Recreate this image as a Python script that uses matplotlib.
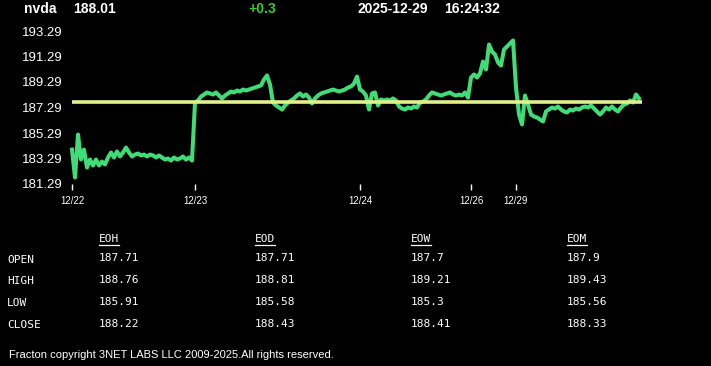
import matplotlib
matplotlib.use("Agg")
import matplotlib.pyplot as plt
from matplotlib.lines import Line2D

# ---------------- data ----------------
symbol = "nvda"
last_price = "188.01"
change = "+0.3"
date_str = "2025-12-29"
time_str = "16:24:32"
ref_price = 187.71

day_labels = ["12/22", "12/23", "12/24", "12/26", "12/29"]
p_1222 = [183.99, 181.80, 185.17, 183.21, 183.99, 182.58, 183.21, 182.74, 183.21, 182.74,
          183.05, 182.82, 183.37, 183.76, 183.37, 183.84, 183.45, 183.76, 184.15, 183.76,
          183.45, 183.60, 183.68, 183.53, 183.60, 183.45, 183.60, 183.53, 183.37, 183.53,
          183.37, 183.21, 183.29, 183.13, 183.37, 183.21, 183.29, 183.45, 183.21, 183.37,
          183.13]
p_1223 = [187.68, 187.84, 188.15, 188.31, 188.47, 188.39, 188.31, 188.47, 188.23, 188.00,
          188.23, 188.39, 188.54, 188.47, 188.62, 188.54, 188.70, 188.62, 188.70, 188.78,
          188.86, 188.94, 189.02, 189.49, 189.80, 189.09, 187.68, 187.45, 187.29, 187.13,
          187.45, 187.68, 187.84, 188.00, 188.23, 188.39, 188.15, 188.31, 188.07, 187.60,
          188.00, 188.23, 188.39, 188.47, 188.54, 188.62, 188.70, 188.62, 188.54, 188.62,
          188.70, 188.86, 188.94, 189.17, 189.72]
p_1224 = [188.70, 188.54, 188.23, 187.13, 188.39, 188.47, 187.45, 187.92, 187.84, 187.92,
          187.84, 188.00, 187.84, 187.37, 187.21, 187.13, 187.29, 187.21, 187.37, 187.29,
          187.68, 187.76, 187.92, 188.23, 188.47, 188.39, 188.31, 188.23, 188.31, 188.39,
          188.47, 188.31, 188.23, 188.31, 188.23, 188.47, 188.07]
p_1226 = [189.64, 189.88, 189.64, 189.96, 190.90, 190.27, 192.23, 191.68, 191.45, 190.82,
          190.58, 191.84, 192.07, 192.31, 192.55]
p_1229 = [188.86, 186.74, 185.96, 188.23, 187.53, 186.74, 186.58, 186.51, 186.35, 186.19,
          186.98, 187.13, 187.29, 187.21, 187.37, 187.13, 186.98, 186.90, 187.13, 187.05,
          187.21, 187.13, 187.29, 187.37, 187.29, 187.45, 187.21, 186.98, 186.74, 186.98,
          187.29, 187.13, 187.37, 187.13, 186.98, 187.29, 187.53, 187.60, 187.84, 187.68,
          188.31, 188.00]
days = [p_1222, p_1223, p_1224, p_1226, p_1229]

y_ticks = [181.29, 183.29, 185.29, 187.29, 189.29, 191.29, 193.29]

row_names = ["OPEN", "HIGH", "LOW", "CLOSE"]
col_names = ["EOH", "EOD", "EOW", "EOM"]
table_vals = {
    "EOH": ["187.71", "188.76", "185.91", "188.22"],
    "EOD": ["187.71", "188.81", "185.58", "188.43"],
    "EOW": ["187.7", "189.21", "185.3", "188.41"],
    "EOM": ["187.9", "189.43", "185.56", "188.33"],
}
footer = "Fracton copyright 3NET LABS LLC 2009-2025.All rights reserved."

# ---------------- build series ----------------
prices = []
tick_pos = []
for d in days:
    tick_pos.append(len(prices))
    prices.extend(d)
xs = list(range(len(prices)))

# ---------------- figure ----------------
W, H = 711, 366
fig = plt.figure(figsize=(W / 100, H / 100), dpi=100, facecolor="black")

def fx(px):
    return px / W

def fy(py):
    return 1 - py / H

ax = fig.add_axes([fx(72), fy(184), fx(639 - 72), (184 - 31) / H])
ax.set_facecolor("black")
ax.set_xlim(0, len(prices) - 1)
ax.set_ylim(181.29, 193.29)
for s in ax.spines.values():
    s.set_visible(False)

ax.plot(xs, prices, color="#3fdc78", lw=2.9, clip_on=False, solid_joinstyle="round", zorder=2)
ax.hlines(ref_price, 0, len(prices), color="#e2f08a", lw=2.6, clip_on=False, zorder=3)

ax.set_yticks(y_ticks)
ax.set_yticklabels([f"{v:.2f}" for v in y_ticks], color="white",
                   fontsize=9.5, fontfamily="Liberation Sans")
ax.tick_params(axis="y", length=0, pad=7)
ax.set_xticks(tick_pos)
ax.set_xticklabels(day_labels, color="white", fontsize=7, fontfamily="Liberation Sans")
ax.tick_params(axis="x", length=4, width=1, color="white", pad=5, direction="out")

# ---------------- header ----------------
hdr = dict(color="white", fontsize=10, fontweight="bold", fontfamily="Liberation Sans",
           va="center", ha="left")
fig.text(fx(24), fy(9), symbol, **hdr)
fig.text(fx(73), fy(9), last_price, **hdr)
fig.text(fx(248), fy(9), change, **{**hdr, "color": "#33cc33"})
fig.text(fx(357), fy(9), date_str, **hdr)
fig.text(fx(444), fy(9), time_str, **hdr)

# ---------------- table ----------------
mono = dict(color="white", fontsize=8, fontfamily="DejaVu Sans Mono", va="center", ha="left")
col_x = [99, 255, 411, 567]
row_y_lab = [260, 281, 303, 325]
row_y_val = [258, 280, 302, 324]
for name, y in zip(row_names, row_y_lab):
    fig.text(fx(7), fy(y), name, **mono)

hdr_texts = []
for cname, x in zip(col_names, col_x):
    t = fig.text(fx(x), fy(239), cname, **mono)
    hdr_texts.append(t)
    for v, y in zip(table_vals[cname], row_y_val):
        fig.text(fx(x), fy(y), v, **mono)

fig.text(fx(9), fy(355), footer, color="white", fontsize=8,
         fontfamily="Liberation Sans", va="center", ha="left")

# underline headers
fig.canvas.draw()
r = fig.canvas.get_renderer()
for t in hdr_texts:
    bb = t.get_window_extent(renderer=r)
    yline = bb.y0 - 0.5
    fig.add_artist(Line2D([bb.x0 / W, bb.x1 / W], [yline / H, yline / H],
                          color="white", lw=0.9, transform=fig.transFigure))

fig.savefig("out.png", dpi=100, facecolor="black")
